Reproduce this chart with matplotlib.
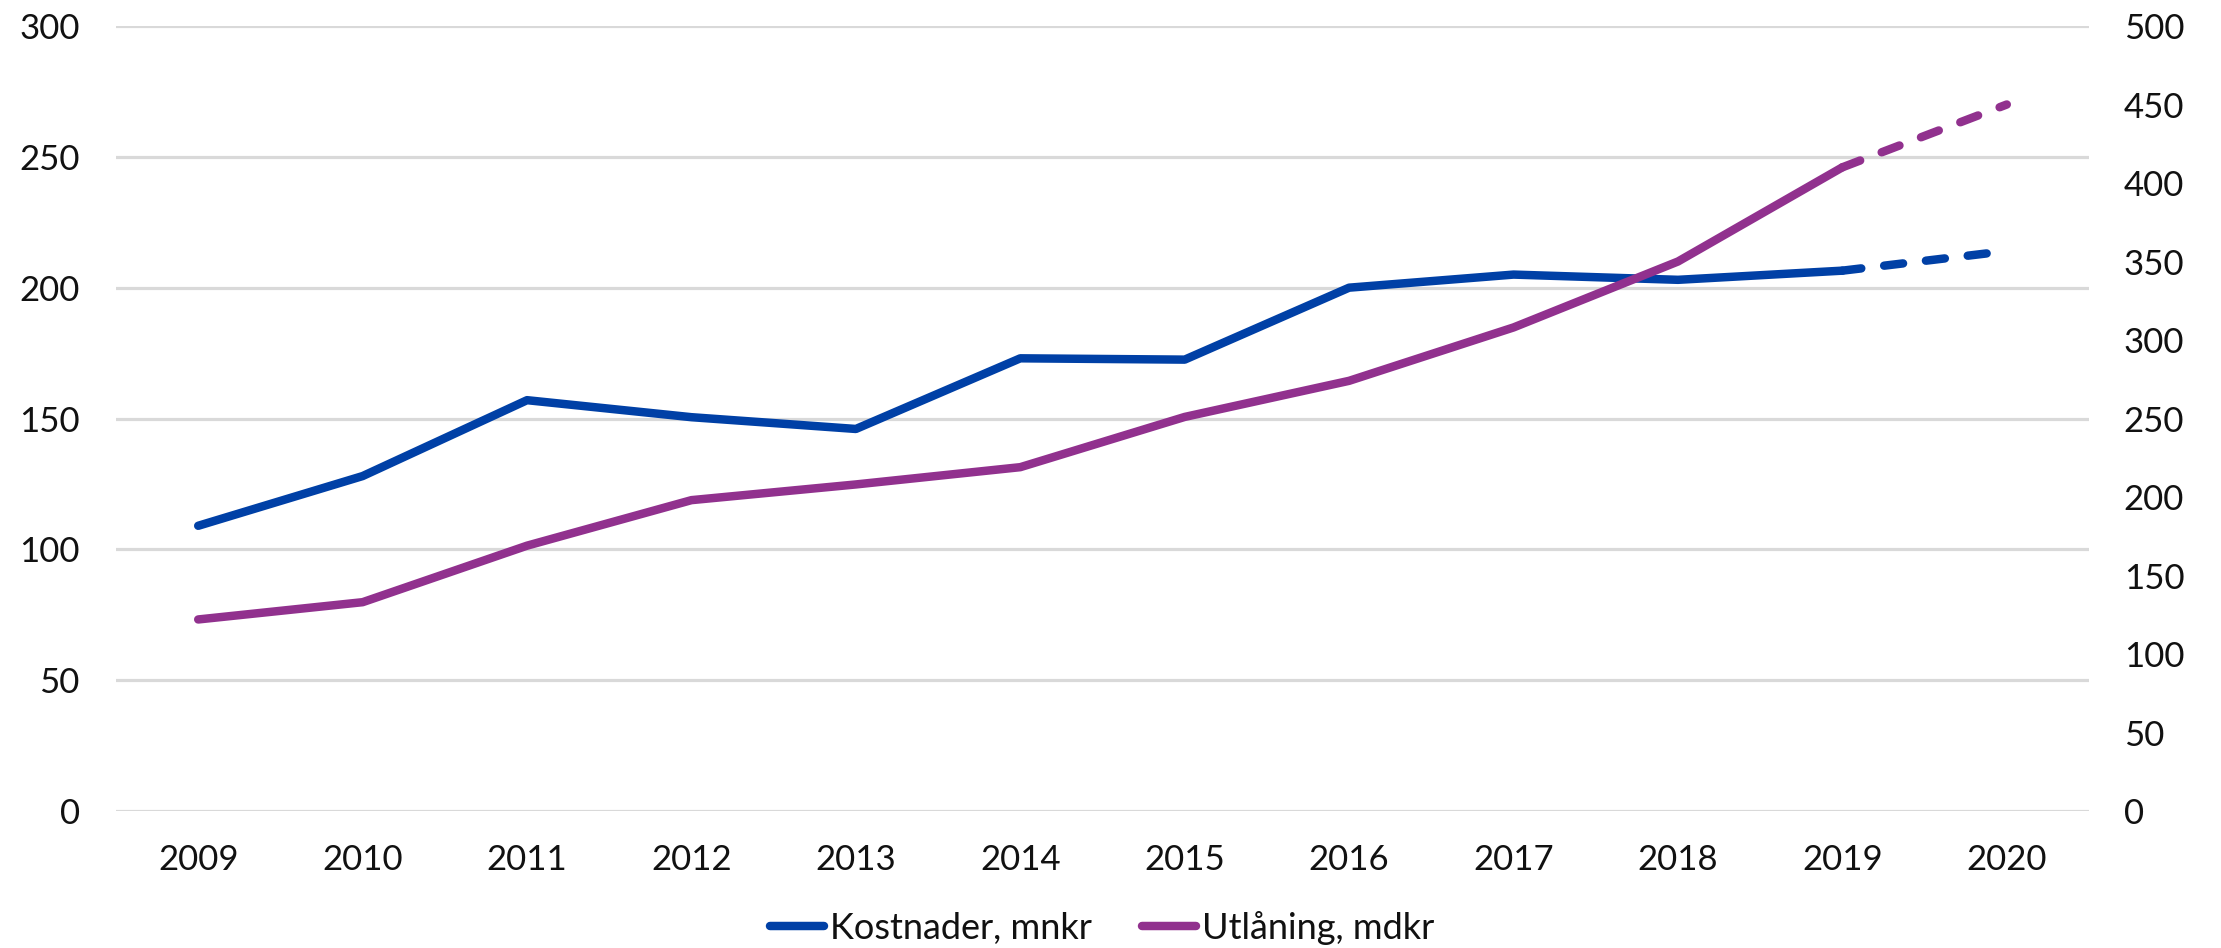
import matplotlib
matplotlib.use('Agg')
import matplotlib.pyplot as plt
from matplotlib.lines import Line2D

plt.rcParams['font.family'] = ['Lato', 'DejaVu Sans']
plt.rcParams['lines.scale_dashes'] = False

# Data
years = [2009, 2010, 2011, 2012, 2013, 2014, 2015, 2016, 2017, 2018, 2019, 2020]
kostnader = [109, 128, 157, 150.5, 146, 173, 172.5, 200, 205, 203, 206.5, 214]   # mnkr, left axis
utlaning = [122, 133, 169, 198, 208, 219, 251, 274, 308, 350, 410, 450]          # mdkr, right axis
n_actual = 11   # 2009-2019 solid, 2019-2020 dashed (forecast)

left_ticks = [0, 50, 100, 150, 200, 250, 300]
right_ticks = [0, 50, 100, 150, 200, 250, 300, 350, 400, 450, 500]

blue = '#0040a6'
purple = '#91318e'
grid_col = '#d9d9d9'
lw = 6.1
fs = 25

fig = plt.figure(figsize=(22.21, 9.48), dpi=100)
ax = fig.add_axes([116/2221, 1-811/948, (2089-116)/2221, (811-26)/948])
ax2 = ax.twinx()

# Kostnader on left axis
ax.plot(years[:n_actual], kostnader[:n_actual], color=blue, lw=lw,
        solid_capstyle='round', solid_joinstyle='round', zorder=3)
ax.plot(years[n_actual-1:], kostnader[n_actual-1:], color=blue, lw=lw,
        dashes=(13.7, 16.6), dash_capstyle='round', zorder=3)

# Utlåning on right axis
ax2.plot(years[:n_actual], utlaning[:n_actual], color=purple, lw=lw,
         solid_capstyle='round', solid_joinstyle='round', zorder=3)
ax2.plot(years[n_actual-1:], utlaning[n_actual-1:], color=purple, lw=lw,
         dashes=(13.7, 16.6), dash_capstyle='round', zorder=3)

ax.set_xlim(years[0]-0.5, years[-1]+0.5)
ax.set_ylim(0, 300)
ax2.set_ylim(0, 500)
ax.set_xticks(years)
ax.set_xticklabels([str(y) for y in years])
ax.set_yticks(left_ticks)
ax2.set_yticks(right_ticks)

ax.yaxis.grid(True, color=grid_col, lw=2.3)
ax.set_axisbelow(True)
for a in (ax, ax2):
    for s in a.spines.values():
        s.set_visible(False)
    a.tick_params(length=0, labelsize=fs, labelcolor='#111111')
ax.tick_params(axis='y', pad=26)
ax2.tick_params(axis='y', pad=25)
ax.tick_params(axis='x', pad=24)

handles = [Line2D([], [], color=blue, lw=lw, solid_capstyle='round'),
           Line2D([], [], color=purple, lw=lw, solid_capstyle='round')]
fig.legend(handles, ['Kostnader, mnkr', 'Utlåning, mdkr'], loc='center',
           bbox_to_anchor=(1102/2221, 1-928/948), ncol=2, frameon=False,
           fontsize=fs+1, handlelength=1.5, handletextpad=0.15,
           columnspacing=1.4, labelcolor='#111111')

fig.savefig('out.png', dpi=100)
